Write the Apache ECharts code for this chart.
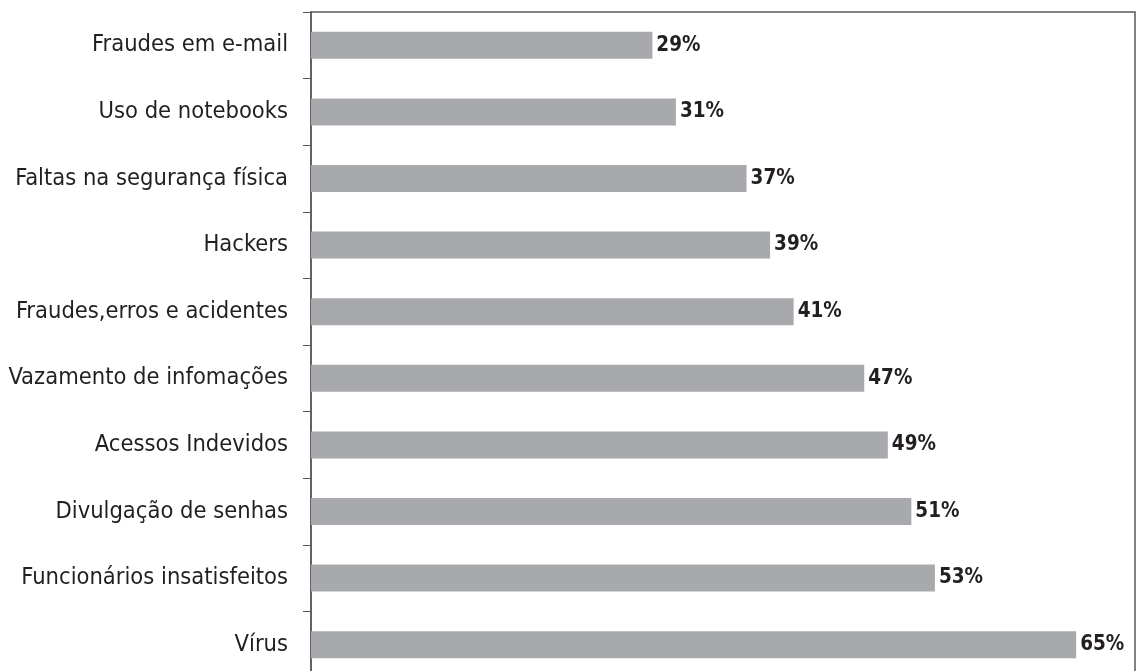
<!DOCTYPE html>
<html>
<head>
<meta charset="utf-8">
<script src="https://cdn.jsdelivr.net/npm/echarts@6/dist/echarts.min.js"></script>
<style>
  html, body { margin: 0; padding: 0; background: #fff; }
  #chart { width: 1141px; height: 671px; }
</style>
</head>
<body>
<div id="chart"></div>
<script>
// categories top to bottom, as in the picture
const categories = [
  "Fraudes em e-mail",
  "Uso de notebooks",
  "Faltas na segurança física",
  "Hackers",
  "Fraudes,erros e acidentes",
  "Vazamento de infomações",
  "Acessos Indevidos",
  "Divulgação de senhas",
  "Funcionários insatisfeitos",
  "Vírus"
];
const values = [29, 31, 37, 39, 41, 47, 49, 51, 53, 65];

const narrow = "'DejaVu Sans Condensed', 'Liberation Sans Narrow', sans-serif";
const axisColor = "#58585a";

const chart = echarts.init(document.getElementById("chart"));
const option = {
  animation: false,
  backgroundColor: "#fff",
  grid: {
    left: 311,
    right: 6,
    top: 12,
    bottom: -7,
    containLabel: false,
    outerBoundsMode: "none",
    show: true,
    borderColor: axisColor,
    borderWidth: 1.5
  },
  xAxis: {
    type: "value",
    min: 0,
    max: 70,
    show: false
  },
  yAxis: {
    type: "category",
    data: categories,
    inverse: true,
    axisLine: { show: true, lineStyle: { color: axisColor, width: 1.5 } },
    axisTick: { show: true, length: 8, lineStyle: { color: axisColor, width: 1 } },
    axisLabel: {
      margin: 23,
      color: "#231f20",
      fontSize: 23.5,
      fontFamily: narrow
    },
    splitLine: { show: false }
  },
  series: [
    {
      type: "bar",
      data: values,
      barWidth: 27,
      itemStyle: { color: "#a8a9ac" },
      label: {
        show: true,
        position: "right",
        distance: 4,
        formatter: "{c}%",
        color: "#231f20",
        fontSize: 20.5,
        fontWeight: "bold",
        fontFamily: narrow
      }
    }
  ]
};
chart.setOption(option);
window.addEventListener("resize", chart.resize);
</script>
</body>
</html>
